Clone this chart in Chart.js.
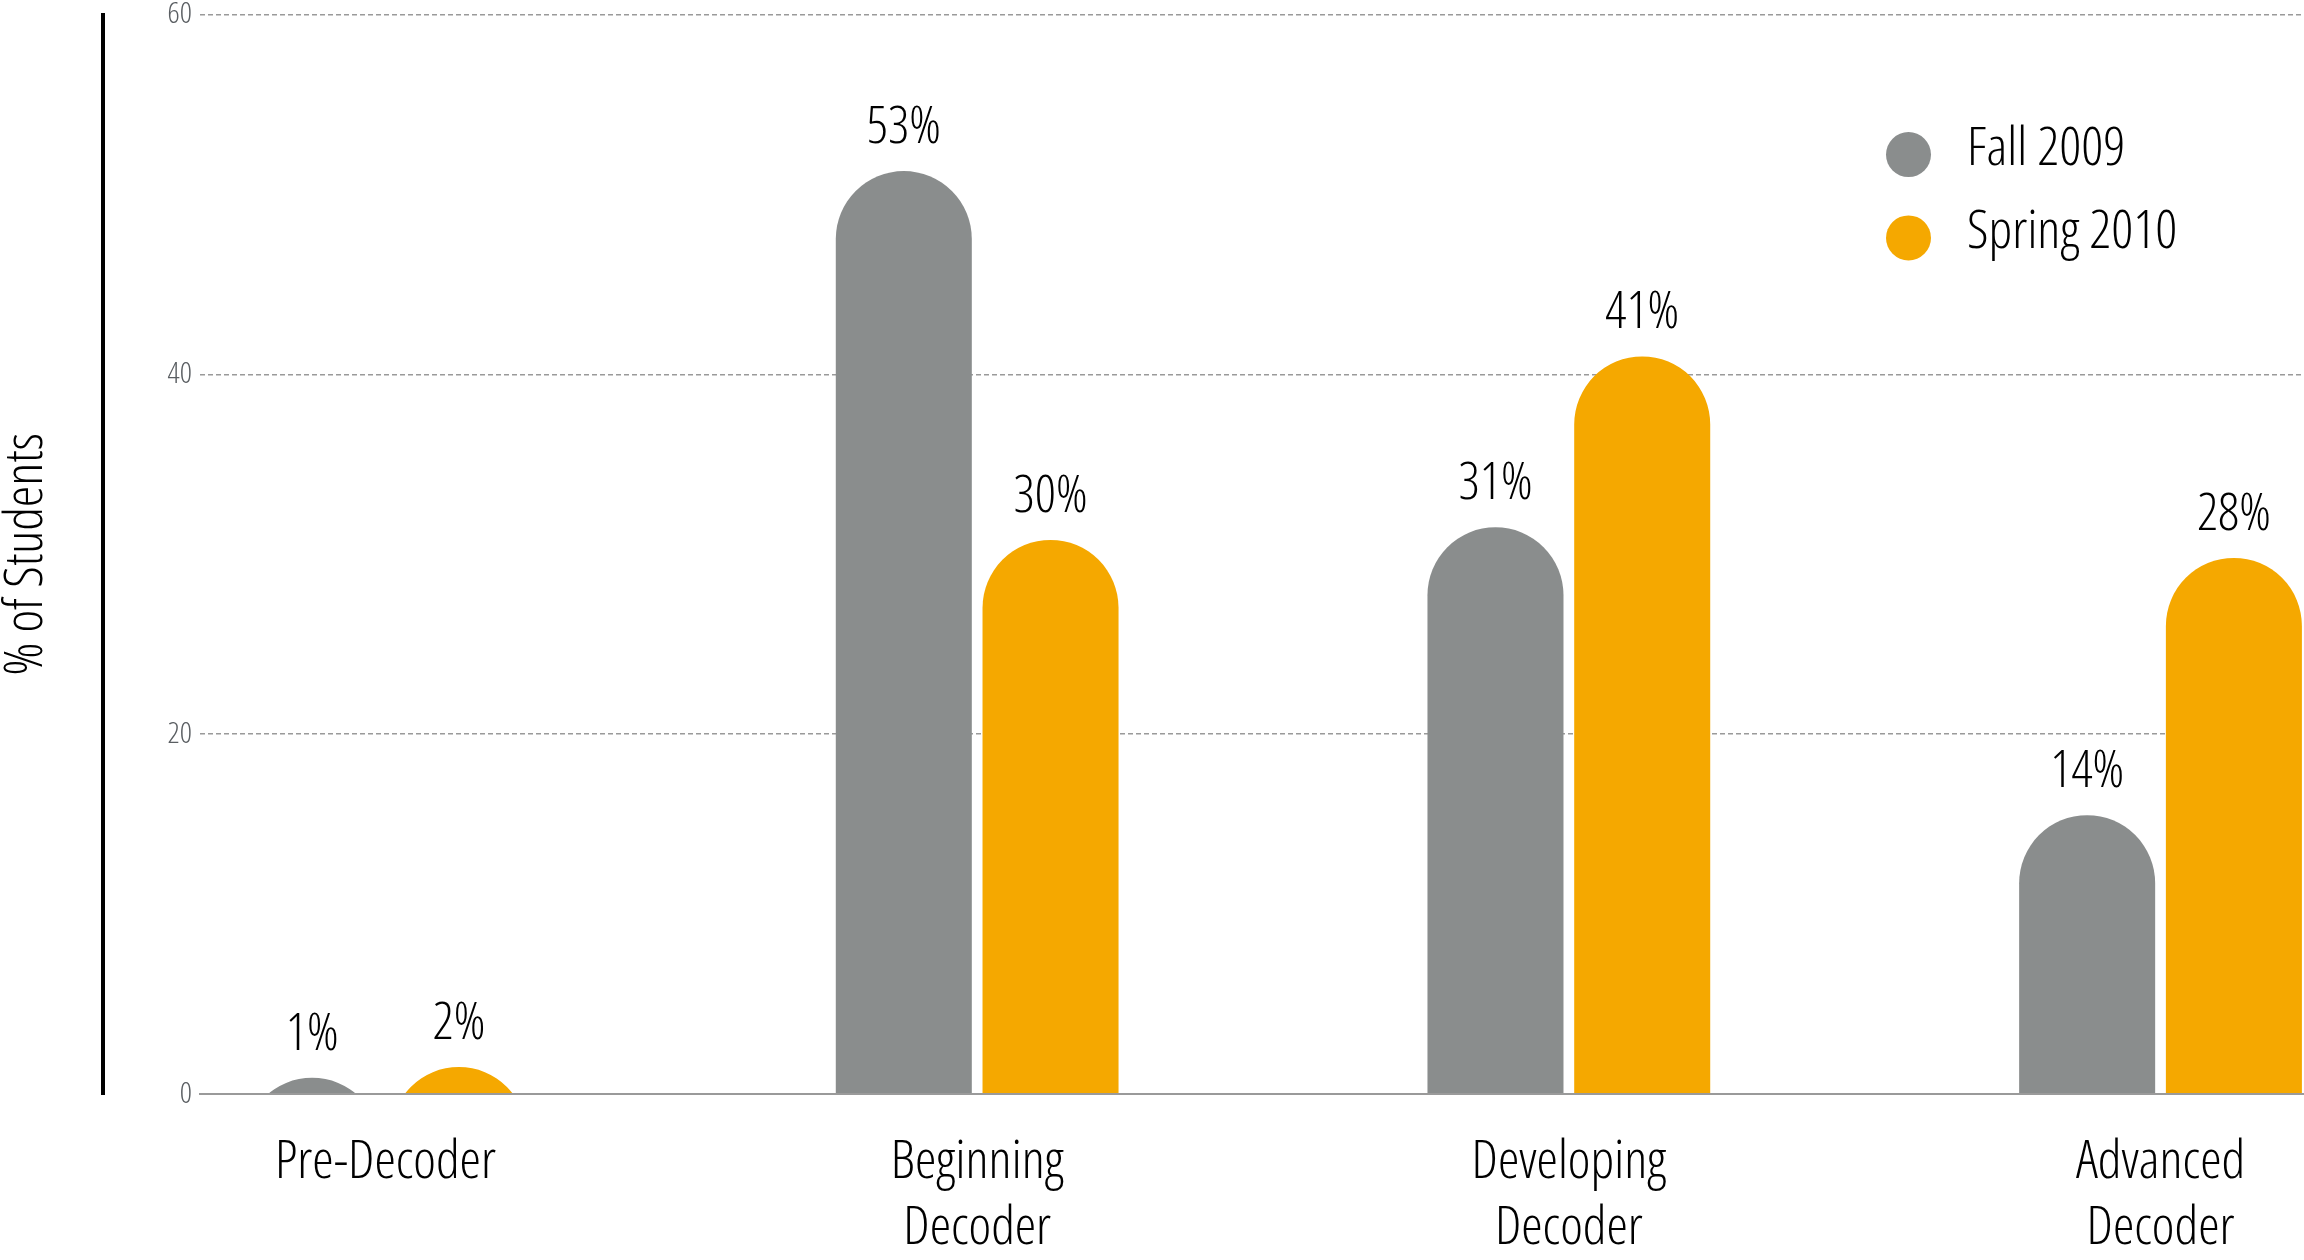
<!DOCTYPE html>
<html lang="en">
<head>
<meta charset="UTF-8">
<title>Decoder levels: Fall 2009 vs Spring 2010</title>
<script src="https://cdn.jsdelivr.net/npm/chart.js@4"></script>
<style>
    html, body { margin: 0; padding: 0; background: #fff; }
    #wrap { position: relative; width: 2304px; height: 1260px; }
</style>
</head>
<body>
<div id="wrap"><canvas id="decoderChart"></canvas></div>
<script>
// data
const categories = [['Pre-Decoder'], ['Beginning', 'Decoder'], ['Developing', 'Decoder'], ['Advanced', 'Decoder']];
const seriesNames = ['Fall 2009', 'Spring 2010'];
// bar heights as drawn (the original bars don't quite match their own labels)
const fall2009 = [0.9, 51.3, 31.5, 15.5];
const spring2010 = [1.5, 30.8, 41.0, 29.8];
const fall2009Labels = ['1%', '53%', '31%', '14%'];
const spring2010Labels = ['2%', '30%', '41%', '28%'];
const yTicks = [0, 20, 40, 60];

const GRAY = '#8a8d8d';
const ORANGE = '#f5a800';
const FAMILY = "'Open Sans', 'Roboto Condensed', sans-serif";
const WEIGHT = '350 condensed';   // ends up in the font shorthand, Open Sans has a width axis

Chart.defaults.font.family = FAMILY;
Chart.defaults.font.weight = WEIGHT;
Chart.defaults.color = '#000';

// percent text above each bar
const valueLabels = {
    id: 'valueLabels',
    afterDatasetsDraw(chart) {
        const ctx = chart.ctx;
        ctx.save();
        ctx.font = WEIGHT + ' 52px ' + FAMILY;
        ctx.fillStyle = '#000';
        ctx.textAlign = 'center';
        ctx.textBaseline = 'middle';
        chart.data.datasets.forEach((ds, di) => {
            chart.getDatasetMeta(di).data.forEach((bar, i) => {
                ctx.fillText(ds.valueLabels[i], bar.x, bar.y - 43);
            });
        });
        ctx.restore();
    }
};

// legend sits inside the plot, top right
const cornerLegend = {
    id: 'cornerLegend',
    afterDraw(chart) {
        const ctx = chart.ctx;
        const area = chart.chartArea;
        ctx.save();
        ctx.font = WEIGHT + ' 54px ' + FAMILY;
        ctx.textAlign = 'left';
        ctx.textBaseline = 'middle';
        chart.data.datasets.forEach((ds, i) => {
            const cy = area.top + 140 + i * 83.3;
            ctx.fillStyle = ds.backgroundColor;
            ctx.beginPath();
            ctx.arc(area.right - 395.5, cy, 22.5, 0, Math.PI * 2);
            ctx.fill();
            ctx.fillStyle = '#000';
            ctx.fillText(ds.label, area.right - 337, cy - 5);
        });
        ctx.restore();
    }
};

const barStyle = {
    borderRadius: { topLeft: 200, topRight: 200, bottomLeft: 0, bottomRight: 0 },
    borderSkipped: 'start',
    base: -10,      // start below the axis so the round top keeps its full radius
    clip: 0,
    categoryPercentage: 0.496,
    barPercentage: 0.927
};

new Chart(document.getElementById('decoderChart'), {
    type: 'bar',
    data: {
        datasets: [
            Object.assign({
                label: seriesNames[0],
                data: fall2009.map((v, i) => ({ x: i, y: v })),
                valueLabels: fall2009Labels,
                backgroundColor: GRAY
            }, barStyle),
            Object.assign({
                label: seriesNames[1],
                data: spring2010.map((v, i) => ({ x: i, y: v })),
                valueLabels: spring2010Labels,
                backgroundColor: ORANGE
            }, barStyle)
        ]
    },
    options: {
        responsive: true,
        maintainAspectRatio: false,
        animation: false,
        layout: { padding: 0 },
        plugins: {
            legend: { display: false },
            tooltip: { enabled: false }
        },
        scales: {
            x: {
                type: 'linear',
                offset: false,
                min: -0.3135,
                max: 3.2425,
                afterBuildTicks: (axis) => { axis.ticks = categories.map((c, i) => ({ value: i })); },
                afterFit: (axis) => { axis.height = 166; },
                ticks: {
                    callback: (value) => categories[value],
                    autoSkip: false,
                    maxRotation: 0,
                    padding: 36,
                    color: '#000',
                    font: { size: 54, lineHeight: 1.22 }
                },
                grid: { display: false, drawTicks: false },
                border: { display: true, color: '#9a9a9a', width: 2, z: 1 }
            },
            y: {
                min: 0,
                max: 60,
                afterBuildTicks: (axis) => { axis.ticks = yTicks.map(v => ({ value: v })); },
                afterFit: (axis) => { axis.width = 97; },
                ticks: {
                    padding: 8,
                    color: '#5a5e62',
                    // small line height keeps the top label from pushing the plot down
                    font: { size: 30, lineHeight: 0.44 }
                },
                grid: {
                    drawTicks: false,
                    lineWidth: 1.5,
                    color: (ctx) => (ctx.tick && ctx.tick.value === 0 ? 'rgba(0,0,0,0)' : '#9a9a9a')
                },
                border: { display: false, dash: [5, 3] }
            },
            // outer axis: just the black rule and the axis title
            yRule: {
                type: 'linear',
                position: 'left',
                weight: 1,
                min: 0,
                max: 60,
                afterFit: (axis) => { axis.width = 103; },
                ticks: { display: false },
                grid: { display: false, drawTicks: false },
                border: { display: true, color: '#000', width: 4 },
                title: {
                    display: true,
                    text: '% of Students',
                    color: '#000',
                    padding: 0,
                    font: { size: 54, lineHeight: 1 }
                }
            }
        }
    },
    plugins: [valueLabels, cornerLegend]
});
</script>
</body>
</html>
